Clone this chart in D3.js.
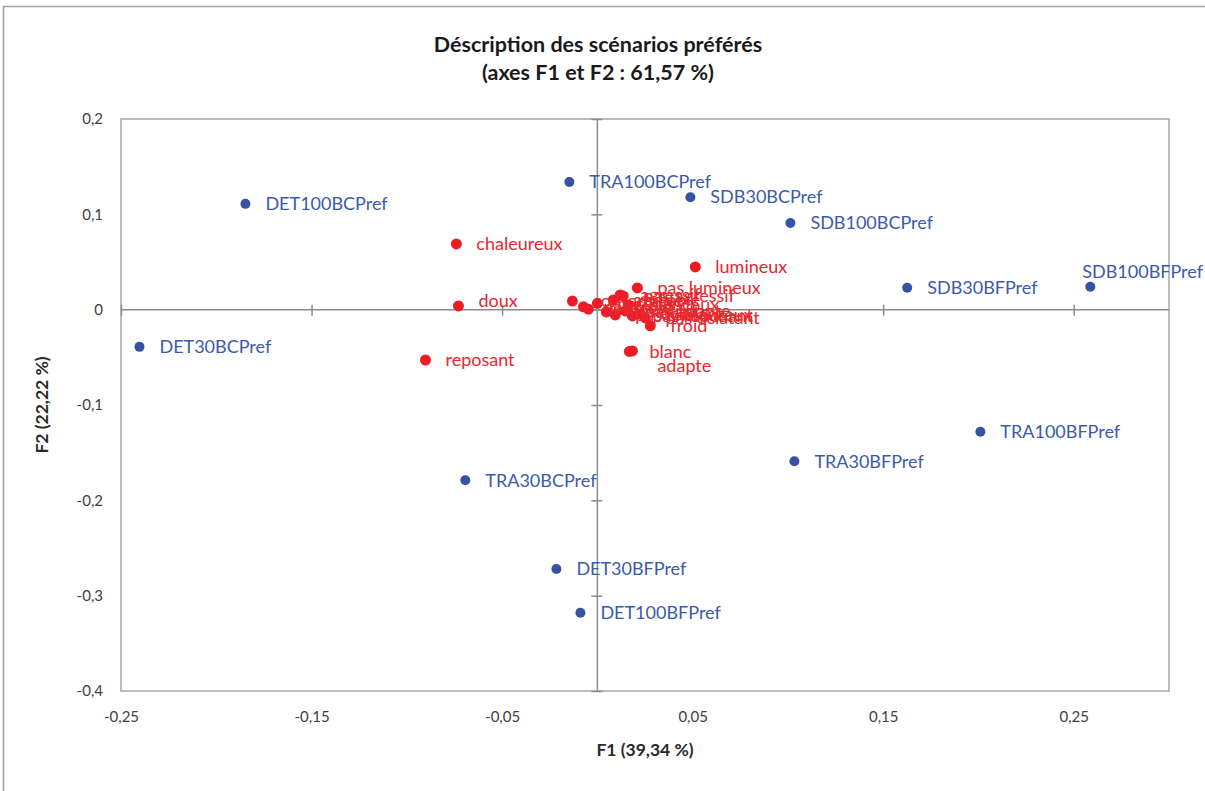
<!DOCTYPE html>
<html>
<head>
<meta charset="utf-8">
<script src="https://cdn.jsdelivr.net/npm/d3@7"></script>
<style>
  html, body { margin: 0; padding: 0; background: #fff; }
  svg { display: block; font-family: Lato, "Open Sans", sans-serif; }
</style>
</head>
<body>
<svg id="chart" width="1205" height="791"></svg>
<script>
// ---- Data ----
const titleLines = ["Déscription des scénarios préférés", "(axes F1 et F2 : 61,57 %)"];
const xTitle = "F1 (39,34 %)";
const yTitle = "F2 (22,22 %)";

const xTicks = [-0.25, -0.15, -0.05, 0.05, 0.15, 0.25];
const yTicks = [0.2, 0.1, 0, -0.1, -0.2, -0.3, -0.4];

// Observations (scenarios)
const obsNames = ["DET100BCPref", "TRA100BCPref", "SDB30BCPref", "SDB100BCPref", "SDB100BFPref",
  "SDB30BFPref", "DET30BCPref", "TRA100BFPref", "TRA30BFPref", "TRA30BCPref", "DET30BFPref", "DET100BFPref"];
const obsF1 = [-0.1847, -0.0147, 0.0488, 0.1013, 0.2587, 0.1626, -0.2403, 0.2010, 0.1034, -0.0693, -0.0215, -0.0089];
const obsF2 = [0.111, 0.134, 0.118, 0.091, 0.024, 0.023, -0.039, -0.128, -0.159, -0.179, -0.272, -0.318];

// Variables (descriptors)
const varNames = ["chaleureux", "doux", "reposant", "lumineux", "pas lumineux", "pas agressif", "froid",
  "blanc", "adapte", "confortable", "pas froid", "intime", "pas blanc", "agréable", "stimulant",
  "pas chaleureux", "pas adapte", "pas reposant", "pas doux", "éclatant", "pas éclatant", "agressif"];
const varF1 = [-0.0740, -0.0729, -0.0902, 0.0514, 0.0210, 0.0136, 0.0278,
  0.0168, 0.0184, -0.0131, -0.0073, -0.0047, 0.0000, 0.0084, 0.0047,
  0.0094, 0.0147, 0.0184, 0.0163, 0.0226, 0.0252, 0.0120];
const varF2 = [0.0689, 0.0039, -0.0528, 0.0448, 0.0228, 0.0144, -0.0170,
  -0.0438, -0.0433, 0.0090, 0.0030, 0.0005, 0.0067, 0.0102, -0.0024,
  -0.0055, -0.0013, -0.0066, 0.0050, -0.0045, -0.0087, 0.0155];

// ---- Layout ----
const svg = d3.select("#chart");
const plot = { left: 121, right: 1169, top: 119, bottom: 691 };
const blue = "#3653a3", blueText = "#3c5aab";
const red = "#ec1c24", redText = "#e8262d";
const gridGray = "#a6a6a6", axisGray = "#8c8c8c";
const labelNudge = { "adapte": [5, 15], "doux": [0, -5] };

const x = d3.scaleLinear().domain([-0.25, 0.30]).range([plot.left, plot.right]);
const y = d3.scaleLinear().domain([-0.4, 0.2]).range([plot.bottom, plot.top]);
const fmt = v => d3.format("")(+v.toFixed(2)).replace(".", ",").replace("−", "-");

// Outer chart frame
svg.append("rect").attr("x", 3.5).attr("y", 6.5).attr("width", 1400).attr("height", 1000)
  .attr("fill", "none").attr("stroke", "#a0a0a0").attr("stroke-width", 1.5);

// Plot area border
svg.append("rect").attr("x", plot.left).attr("y", plot.top)
  .attr("width", plot.right - plot.left).attr("height", plot.bottom - plot.top)
  .attr("fill", "none").attr("stroke", gridGray).attr("stroke-width", 1.5);

// Axis lines through zero
svg.append("line").attr("x1", plot.left).attr("x2", plot.right).attr("y1", y(0)).attr("y2", y(0))
  .attr("stroke", axisGray).attr("stroke-width", 1.5);
svg.append("line").attr("x1", x(0)).attr("x2", x(0)).attr("y1", plot.top).attr("y2", plot.bottom)
  .attr("stroke", axisGray).attr("stroke-width", 1.5);

// Tick marks (cross) on axes via d3 axes
const xAxisG = svg.append("g").attr("transform", `translate(0,${y(0) - 5})`)
  .call(d3.axisBottom(x).tickValues(xTicks).tickSize(11).tickFormat(""));
xAxisG.select(".domain").remove();
xAxisG.selectAll("line").attr("stroke", axisGray).attr("stroke-width", 1.5);
const yAxisG = svg.append("g").attr("transform", `translate(${x(0) + 5},0)`)
  .call(d3.axisLeft(y).tickValues(yTicks).tickSize(11).tickFormat(""));
yAxisG.select(".domain").remove();
yAxisG.selectAll("line").attr("stroke", axisGray).attr("stroke-width", 1.5);

// Tick labels at plot edges
const xLab = svg.append("g").attr("transform", `translate(0,${plot.bottom})`)
  .call(d3.axisBottom(x).tickValues(xTicks).tickSize(0).tickPadding(20).tickFormat(fmt));
xLab.select(".domain").remove();
xLab.selectAll("text").attr("font-family", "Lato, sans-serif").attr("font-size", 15).attr("fill", "#404040");
const yLab = svg.append("g").attr("transform", `translate(${plot.left},0)`)
  .call(d3.axisLeft(y).tickValues(yTicks).tickSize(0).tickPadding(18).tickFormat(fmt));
yLab.select(".domain").remove();
yLab.selectAll("text").attr("font-family", "Lato, sans-serif").attr("font-size", 15).attr("fill", "#404040");

// Titles
svg.selectAll("text.title").data(titleLines).join("text").attr("class", "title")
  .attr("x", 598).attr("y", (d, i) => 52 + i * 28).attr("text-anchor", "middle")
  .attr("font-size", 21.5).attr("font-weight", "bold").attr("fill", "#1a1a1a").text(d => d);
svg.append("text").attr("x", (plot.left + plot.right) / 2).attr("y", 756).attr("text-anchor", "middle")
  .attr("font-size", 17.5).attr("font-weight", "bold").attr("fill", "#2a2a2a").text(xTitle);
svg.append("text").attr("transform", `translate(48,${(plot.top + plot.bottom) / 2}) rotate(-90)`)
  .attr("text-anchor", "middle").attr("font-size", 17.5).attr("font-weight", "bold").attr("fill", "#2a2a2a").text(yTitle);

// Data
const obs = obsNames.map((n, i) => ({ name: n, f1: obsF1[i], f2: obsF2[i] }));
const vars = varNames.map((n, i) => ({ name: n, f1: varF1[i], f2: varF2[i] }));

svg.append("g").selectAll("circle").data(obs).join("circle")
  .attr("cx", d => x(d.f1)).attr("cy", d => y(d.f2)).attr("r", 5).attr("fill", blue);
svg.append("g").selectAll("circle").data(vars).join("circle")
  .attr("cx", d => x(d.f1)).attr("cy", d => y(d.f2)).attr("r", 5.5).attr("fill", red);

function addLabels(data, color) {
  const g = svg.append("g");
  g.selectAll("text").data(data).join("text")
    .attr("font-size", 18).attr("fill", color)
    .attr("x", d => x(d.f1) + 20).attr("y", d => y(d.f2)).attr("dy", "0.35em")
    .text(d => d.name)
    .each(function (d) {
      const t = d3.select(this);
      const w = this.getComputedTextLength();
      let tx = x(d.f1) + 20, ty = y(d.f2);
      if (tx + w > 1203) { tx = 1203 - w; ty = y(d.f2) - 15; }
      const n = labelNudge[d.name];
      if (n) { tx += n[0]; ty += n[1]; }
      t.attr("x", tx).attr("y", ty);
    });
}
addLabels(obs, blueText);
addLabels(vars, redText);
</script>
</body>
</html>
